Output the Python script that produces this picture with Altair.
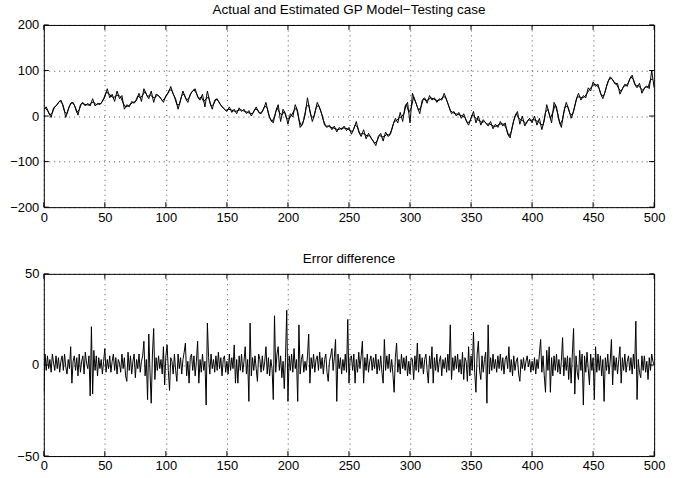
import altair as alt
import pandas as pd

FONT = "Liberation Sans"
W, H = 613, 183

# ---- top panel: actual (even samples) and estimated (odd samples) ----
actual_x = list(range(0, 501, 2))
actual_y = [
    15, 20, 8, -3, 18, 22, 30, 35, 22, -3,
    15, 28, 30, 18, 2, 25, 30, 22, 28, 22,
    38, 22, 28, 25, 32, 42, 60, 40, 48, 32,
    55, 38, 45, 15, 25, 20, 32, 28, 35, 50,
    32, 60, 48, 38, 55, 30, 48, 45, 38, 30,
    45, 50, 65, 48, 38, 15, 35, 55, 40, 30,
    48, 55, 60, 42, 35, 48, 20, 55, 30, 15,
    35, 38, 28, 20, 15, 10, 20, 8, 15, 5,
    18, 10, 15, 5, 12, 0, 10, 20, 8, 5,
    15, 30, 5, -10, -15, 10, 25, -12, 15, 5,
    -18, 5, -2, 25, 10, -25, -18, 2, 40, 10,
    -12, 5, 30, 18, 2, -20, -25, -20, -30, -22,
    -35, -25, -30, -22, -32, -25, -40, -28, -12, -35,
    -45, -30, -50, -38, -48, -55, -65, -45, -38, -55,
    -35, -45, -40, -20, -5, -15, 8, -12, 22, 30,
    -15, 50, 35, 20, 5, 35, 40, 28, 45, 35,
    40, 30, 38, 35, 50, 35, 20, 5, 10, 0,
    8, -5, 5, -10, -20, -5, 10, -15, 0, -20,
    -8, -15, -22, -12, -28, -18, -25, -12, -22, -15,
    -40, -48, -20, 0, 10, -18, 0, -22, -12, -5,
    -15, 0, -20, -5, -30, -10, 25, 5, -15, 30,
    20, -10, -25, 10, 30, 15, -5, 10, 35, 50,
    35, 45, 40, 62, 55, 75, 65, 70, 50, 38,
    55, 75, 86, 80, 70, 72, 48, 60, 70, 65,
    82, 90, 70, 62, 72, 50, 62, 66, 60, 100,
    62,
]
est_x = list(range(1, 500, 2))
est_y = [
    18, 12, 2, 8, 20, 25, 33, 28, 10, 5,
    22, 30, 24, 8, 14, 28, 26, 25, 24, 30,
    30, 25, 27, 28, 38, 52, 50, 44, 40, 44,
    46, 42, 28, 20, 22, 26, 30, 32, 44, 40,
    46, 54, 42, 47, 42, 40, 46, 42, 34, 38,
    48, 58, 56, 42, 25, 25, 45, 48, 35, 40,
    52, 58, 50, 38, 42, 32, 38, 42, 22, 25,
    37, 33, 24, 18, 12, 15, 14, 12, 10, 12,
    14, 12, 10, 8, 6, 5, 15, 14, 6, 10,
    22, 18, -3, -12, -2, 18, 8, 2, 10, -6,
    -6, 2, 12, 18, -8, -22, -8, 20, 25, 0,
    -4, 18, 24, 10, -9, -22, -22, -25, -26, -28,
    -30, -28, -26, -27, -28, -32, -34, -20, -24, -40,
    -38, -40, -44, -43, -52, -60, -55, -42, -46, -45,
    -40, -42, -30, -12, -10, -4, -2, 5, 26, 8,
    18, 42, 28, 12, 20, 38, 34, 36, 40, 38,
    35, 34, 36, 42, 42, 28, 12, 8, 5, 4,
    2, 0, -3, -15, -12, 3, -2, -8, -10, -14,
    -12, -18, -17, -20, -23, -22, -18, -17, -18, -28,
    -44, -34, -10, 5, -4, -9, -11, -17, -8, -10,
    -7, -10, -12, -18, -20, 8, 15, -5, 8, 25,
    5, -18, -8, 20, 22, 5, 2, 22, 42, 42,
    40, 42, 50, 58, 65, 70, 68, 60, 44, 46,
    65, 80, 83, 75, 71, 60, 54, 65, 67, 74,
    86, 80, 66, 67, 61, 56, 64, 63, 80, 81,
]

# ---- bottom panel: error difference ----
err_x = list(range(0, 501))
err_y = [
    -15, 6, -3, 5, -2, 3, -4, 6, 1, -3,
    5, -2, 4, -4, 2, 5, -3, 6, -1, -5,
    3, -2, 10, -10, 2, 5, -3, 4, -6, 6,
    -4, 2, 5, -5, 7, 1, -2, 5, -17, 21,
    -16, 8, -3, 5, -6, 4, -2, 3, -5, 2,
    9, -4, 3, -2, 5, -4, 2, 6, -3, 4,
    -5, 3, 1, -4, 6, -2, 4, -6, -9, 7,
    -3, 5, -5, 2, 6, -7, 3, -2, 6, -4,
    2, 5, 13, -6, 3, -19, 17, -4, -21, 6,
    20, -8, 4, -3, 5, -2, 3, -5, 10, -11,
    5, 11, -3, -14, 4, 2, -5, 6, -3, -9,
    6, -2, 4, -5, 3, 7, 12, -6, 2, -10,
    4, 6, -3, 5, -6, 2, 13, -10, 3, -4,
    6, -3, 2, -22, 23, 4, -5, 6, -2, 3,
    -4, 5, -3, 7, -2, 4, -6, 3, 5, -4,
    2, -5, 6, -3, 4, -2, 11, -10, 3, -10,
    5, -3, 6, -4, 2, 10, -5, 3, -20, 23,
    -6, 4, -3, 5, -2, -9, 6, 3, -4, 5,
    -3, 2, 10, -5, 4, -6, 3, -2, -19, 27,
    -4, 6, 10, -3, 5, -7, 2, -13, 4, 30,
    -20, 5, -3, 6, -4, 9, -2, 3, -20, 22,
    -5, 3, 6, -4, 2, -3, 5, 17, -10, 4,
    -2, 6, -4, 3, 5, -3, 7, -2, 4, -5,
    3, 6, -4, -9, 2, 5, 9, -3, 4, 14,
    -20, 6, -2, 4, -5, 3, -3, 6, -4, 25,
    -10, 4, 5, -3, 6, -10, 3, -4, 7, -2,
    5, 13, -10, 4, -3, 6, -4, 2, 5, -3,
    4, -2, 6, -5, 3, -3, 5, -4, -10, 14,
    -3, 5, -2, 6, -4, 3, -5, -15, 4, 12,
    -4, 3, -5, 6, -2, 4, -3, 5, -6, 2,
    -5, 4, 3, -8, 5, -3, 12, -4, 6, -2,
    4, -5, 3, 6, -3, -10, 5, -2, 10, -10,
    4, -3, 6, -4, 2, 5, -6, 3, -2, 4,
    -4, 6, -3, 22, -8, 4, -3, 5, -2, 6,
    -4, 3, -5, 7, -8, 4, 2, -9, 10, -6,
    5, -3, 18, -4, -15, 6, 13, -3, -8, 5,
    -4, 3, 7, -21, 22, -5, 4, -3, 6, -2,
    3, -4, 5, -2, 6, -3, 4, -5, 3, 5,
    -2, 10, -4, 3, -6, 5, -3, 2, 4, -5,
    -9, 3, -2, 4, -3, 2, 5, -1, 3, -4,
    2, -3, 4, -5, 3, -2, 6, 14, -4, 5,
    -6, -15, 8, -3, 10, -15, 4, -6, 5, -3,
    6, -4, 3, -5, 2, 15, -6, 4, -3, 5,
    -8, 4, -10, 6, 20, -16, 5, -4, -8, 8,
    -3, 6, -22, 5, -4, 7, -2, -11, 6, -3,
    4, -19, 10, -4, 6, -3, 5, -6, 3, -20,
    4, -3, 6, -5, 2, 14, -11, 5, -3, 4,
    -5, 3, 10, -10, 4, -3, 6, -4, 2, 5,
    -3, 4, -5, 6, -2, 24, -19, 3, -4, -7,
    5, -3, 5, -4, 2, -8, 4, -3, 6, 2,
    0,
]

x_ticks = [0, 50, 100, 150, 200, 250, 300, 350, 400, 450, 500]
top_y_ticks = [-200, -100, 0, 100, 200]
bot_y_ticks = [-50, 0, 50]
top_title = "Actual and Estimated GP Model\u2212Testing case"
bot_title = "Error difference"

top_df = pd.DataFrame({
    "x": actual_x + est_x,
    "y": actual_y + est_y,
    "s": ["Actual"] * len(actual_x) + ["Estimated"] * len(est_x),
})
err_df = pd.DataFrame({"x": err_x, "y": err_y})
xt_df = pd.DataFrame({"t": x_ticks})

xscale = alt.Scale(domain=[0, 500], nice=False, zero=False)
xaxis = alt.Axis(values=x_ticks, title=None, grid=True, ticks=False, domain=False,
                 labelPadding=4, labelFlush=False)


def panel(df, yticks, ydom, title, series):
    yscale = alt.Scale(domain=ydom, nice=False, zero=False)
    yaxis = alt.Axis(values=yticks, title=None, grid=True, ticks=False, domain=False,
                     labelPadding=5, labelFlush=False)
    enc = dict(
        x=alt.X("x:Q", scale=xscale, axis=xaxis),
        y=alt.Y("y:Q", scale=yscale, axis=yaxis),
        color=alt.value("black"),
    )
    if series:
        enc["detail"] = "s:N"
    line = alt.Chart(df).mark_line(strokeWidth=1, clip=True).encode(**enc)
    yt_df = pd.DataFrame({"t": yticks})
    xt_bot = alt.Chart(xt_df).mark_rule(color="black", strokeWidth=1).encode(
        x=alt.X("t:Q", scale=xscale, axis=xaxis), y=alt.value(H), y2=alt.value(H - 5))
    xt_top = alt.Chart(xt_df).mark_rule(color="black", strokeWidth=1).encode(
        x=alt.X("t:Q", scale=xscale, axis=xaxis), y=alt.value(0), y2=alt.value(5))
    yt_left = alt.Chart(yt_df).mark_rule(color="black", strokeWidth=1).encode(
        y=alt.Y("t:Q", scale=yscale, axis=yaxis), x=alt.value(0), x2=alt.value(5))
    yt_right = alt.Chart(yt_df).mark_rule(color="black", strokeWidth=1).encode(
        y=alt.Y("t:Q", scale=yscale, axis=yaxis), x=alt.value(W), x2=alt.value(W - 5))
    return alt.layer(line, xt_bot, xt_top, yt_left, yt_right).properties(
        width=W, height=H,
        title=alt.TitleParams(title, fontSize=13.5, font=FONT, fontWeight="normal",
                              color="black", anchor="middle", offset=2),
    )


top = panel(top_df, top_y_ticks, [-200, 200], top_title, True)
bottom = panel(err_df, bot_y_ticks, [-50, 50], bot_title, False)

chart = alt.vconcat(top, bottom, spacing=67, bounds="flush").properties(
    padding={"left": 9, "top": 2, "right": 20, "bottom": 5},
    background="white",
).configure_view(stroke="black", strokeWidth=1).configure_axis(
    labelFont=FONT, labelFontSize=13, labelColor="black",
    gridColor="#000000", gridDash=[1, 4], gridOpacity=0.7, gridWidth=1,
)

chart.save("out.html", embed_options={"renderer": "svg", "actions": False})
